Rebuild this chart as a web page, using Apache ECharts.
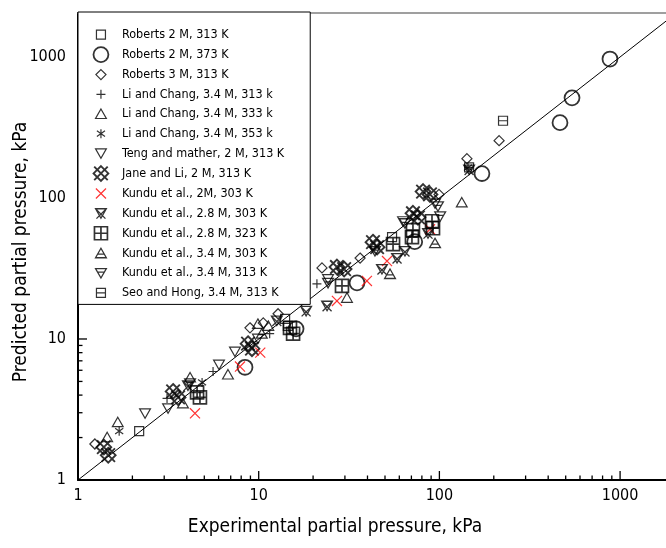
<!DOCTYPE html>
<html><head><meta charset="utf-8">
<script src="https://cdn.jsdelivr.net/npm/echarts@6/dist/echarts.min.js"></script>
<style>html,body{margin:0;padding:0;background:#fff}#c{width:666px;height:548px}</style>
</head><body><div id="c"></div>
<script>
const FONT = '"DejaVu Sans Condensed","DejaVu Sans",sans-serif';

// ---- data (experimental, predicted) in kPa ----
const seriesNames = [
  'Roberts 2 M, 313 K', 'Roberts 2 M, 373 K', 'Roberts 3 M, 313 K',
  'Li and Chang, 3.4 M, 313 k', 'Li and Chang, 3.4 M, 333 k', 'Li and Chang, 3.4 M, 353 k',
  'Teng and mather, 2 M, 313 K', 'Jane and Li, 2 M, 313 K', 'Kundu et al., 2M, 303 K',
  'Kundu et al., 2.8 M, 303 K', 'Kundu et al., 2.8 M, 323 K', 'Kundu et al., 3.4 M, 303 K',
  'Kundu et al., 3.4 M, 313 K', 'Seo and Hong, 3.4 M, 313 K'
];
const roberts2M313 = [[2.18,2.22],[14.0,13.9],[14.5,12.4],[54.7,52.7]];
const roberts2M373 = [[8.4,6.3],[16.1,11.8],[35,25],[73,49],[172,149],[465,342],[542,513],[879,967]];
const roberts3M313 = [[1.24,1.80],[8.95,12.0],[10.6,13.0],[12.8,15.1],[22.4,31.9],[36.4,37.5],[99.5,106],[142,190],[214,255]];
const li313 = [[3.11,3.79],[5.59,5.88],[11.5,10.9],[21.0,24.6]];
const li333 = [[1.45,2.01],[1.66,2.57],[3.81,3.49],[4.17,5.33],[6.76,5.6],[9.9,12.8],[11.3,12.4],[30.8,19.6],[133,93]];
const li353 = [[1.69,2.22],[4.86,4.92],[144,164]];
const teng = [[2.35,2.97],[3.15,3.22],[6.03,6.59],[7.39,8.13],[9.9,10.05],[24.2,26.6],[62.9,68.4],[94.6,91.6]];
const jane = [[1.39,1.71],[1.47,1.50],[3.36,4.25],[3.58,3.85],[8.73,9.27],[9.18,8.54],[27.1,32.4],[29.7,31.3],[42.9,48.6],[45.2,44.8],[71.4,77.9],[76.1,72.9],[81.2,111],[88.7,106]];
const kundu2M303 = [[4.44,2.97],[7.88,6.38],[10.2,8.0],[27.1,18.6],[39.7,25.8],[51.3,35.7],[88.7,60.0]];
const kundu28M303 = [[4.06,4.68],[12.6,13.5],[18.3,15.8],[23.9,17.2],[48.1,31.3],[58.3,37.5],[64.5,42.0],[86.5,56.2],[146,159]];
const kundu28M323 = [[4.56,4.18],[4.73,3.85],[14.9,12.0],[15.5,10.9],[28.9,23.8],[55.4,47.1],[70.5,52.7],[71.4,59.1],[91.0,68.4],[92.2,61.0]];
const kundu34M303 = [[10.4,10.9],[53.3,28.9],[94.6,47.8]];
const kundu34M313 = [[4.17,4.84],[24.2,25.0],[44.0,42.0],[64.5,66.2],[98.2,87.2],[101,74.1]];
const seo34M313 = [[146,165],[225,353]];
const parityLine = [[1,1],[3000,3000]];

// ---- axes ----
const axisLabelValues = [1, 10, 100, 1000];
const majorTicks = [10, 100, 1000];
const minorTicks = [2,3,4,5,6,7,8,9,20,30,40,50,60,70,80,90,200,300,400,500,600,700,800,900];
const xMin = 1, xMax = 1795, yMin = 1, yMax = 2050;

// ---- marker shapes (20x20 frame) ----
const F = 'path://M0 0 M20 20 ';
const shapes = [
  F + 'M5 5 L15 5 L15 15 L5 15 Z',
  F + 'M1.7 10 A8.3 8.3 0 1 1 18.3 10 A8.3 8.3 0 1 1 1.7 10 Z',
  F + 'M10 4.4 L15.6 10 L10 15.6 L4.4 10 Z',
  F + 'M10 5 L10 15 M5 10 L15 10',
  F + 'M10 4.5 L16 15 L4 15 Z',
  F + 'M10 5 L10 15 M5.5 6.8 L14.5 13.2 M5.5 13.2 L14.5 6.8',
  F + 'M4 5 L16 5 L10 15.5 Z',
  F + 'M10 1.8 L18.2 10 L10 18.2 L1.8 10 Z M2.5 2.5 L17.5 17.5 M17.5 2.5 L2.5 17.5',
  F + 'M4.4 4.4 L15.6 15.6 M15.6 4.4 L4.4 15.6',
  F + 'M4 5 L16 5 L10 15.5 Z M4 5 L15 16 M16 5 L5 16',
  F + 'M2.8 2.8 L17.2 2.8 L17.2 17.2 L2.8 17.2 Z M10 2.8 L10 17.2 M2.8 10 L17.2 10',
  F + 'M10 4.5 L16 15 L4 15 Z M6.3 11 L13.7 11',
  F + 'M4 5 L16 5 L10 15.5 Z M6.3 9 L13.7 9',
  F + 'M5 5 L15 5 L15 15 L5 15 Z M5 10 L15 10'
];
const widths = [1.2,1.8,1.2,1.2,1.2,1.2,1.2,1.9,1.2,1.3,1.7,1.3,1.3,1.2];
const colors = ['#000','#000','#000','#000','#000','#000','#000','#000','#f00','#000','#000','#000','#000','#000'];
const datasets = [roberts2M313, roberts2M373, roberts3M313, li313, li333, li353, teng, jane,
  kundu2M303, kundu28M303, kundu28M323, kundu34M303, kundu34M313, seo34M313];

const isPow10 = v => Math.abs(Math.log10(v) - Math.round(Math.log10(v))) < 1e-6;

const scatter = seriesNames.map((n, i) => ({
  name: n, type: 'scatter', data: datasets[i], symbol: shapes[i], symbolSize: 18,
  itemStyle: { color: 'rgba(0,0,0,0)', borderColor: colors[i], borderWidth: widths[i] },
  emphasis: { disabled: true }, z: 3
}));

function tickSeries(vals, isX, len) {
  return {
    type: 'custom', coordinateSystem: 'cartesian2d', silent: true, clip: false, z: 2,
    data: vals.map(v => isX ? [v, yMin] : [xMin, v]),
    renderItem: (params, api) => {
      const p = api.coord([api.value(0), api.value(1)]);
      const shape = isX ? { x1: p[0], y1: p[1], x2: p[0], y2: p[1] - len }
                        : { x1: p[0], y1: p[1], x2: p[0] + len, y2: p[1] };
      return { type: 'line', shape, style: { stroke: '#000', lineWidth: 1.3 } };
    }
  };
}

const chart = echarts.init(document.getElementById('c'), null, { renderer: 'canvas' });
chart.setOption({
  animation: false,
  textStyle: { fontFamily: FONT },
  grid: { left: 78, right: 0, top: 13, bottom: 68, containLabel: false, outerBoundsMode: 'none' },
  legend: {
    orient: 'vertical', left: 78, top: 12, selectedMode: false,
    itemWidth: 18, itemHeight: 18, itemGap: 0.5,
    padding: [13, 26, 2, 13],
    backgroundColor: '#fff', borderColor: '#000', borderWidth: 1,
    textStyle: { fontFamily: FONT, fontSize: 12.5, lineHeight: 15, color: '#000', padding: [0, 0, 0, 7] },
    data: seriesNames.map((n, i) => ({
      name: n, icon: shapes[i],
      itemStyle: { color: 'rgba(0,0,0,0)', borderColor: colors[i], borderWidth: widths[i] }
    }))
  },
  xAxis: [{
    type: 'log', logBase: 10, min: xMin, max: xMax,
    name: 'Experimental partial pressure, kPa', nameLocation: 'middle', nameGap: 38,
    nameTextStyle: { fontFamily: FONT, fontSize: 19, color: '#000', padding: [0, 74, 0, 0] },
    axisLine: { lineStyle: { color: '#000', width: 2 } },
    axisTick: { show: false }, splitLine: { show: false },
    axisLabel: { fontFamily: FONT, fontSize: 16, color: '#000', margin: 8,
      formatter: v => (isPow10(v) && axisLabelValues.indexOf(Math.round(v)) >= 0) ? String(Math.round(v)) : '' }
  }, {
    type: 'log', logBase: 10, min: xMin, max: xMax, position: 'top',
    axisLine: { lineStyle: { color: '#808080', width: 1.5 } },
    axisTick: { show: false }, axisLabel: { show: false }, splitLine: { show: false }
  }],
  yAxis: {
    type: 'log', logBase: 10, min: yMin, max: yMax,
    name: 'Predicted partial pressure, kPa', nameLocation: 'middle', nameGap: 47,
    nameMoveOverlap: false,
    nameTextStyle: { fontFamily: FONT, fontSize: 19, color: '#000', padding: [0, 11, 0, 0] },
    axisLine: { lineStyle: { color: '#000', width: 2 } },
    axisTick: { show: false }, splitLine: { show: false },
    axisLabel: { fontFamily: FONT, fontSize: 16, color: '#000', margin: 12,
      formatter: v => (isPow10(v) && axisLabelValues.indexOf(Math.round(v)) >= 0) ? String(Math.round(v)) : '' }
  },
  series: [
    { type: 'line', data: parityLine, symbol: 'none', silent: true, z: 1,
      lineStyle: { color: '#000', width: 1 } },
    tickSeries(majorTicks, true, 9), tickSeries(minorTicks, true, 4.5),
    tickSeries(majorTicks, false, 9), tickSeries(minorTicks, false, 4.5),
    ...scatter
  ]
});
</script></body></html>
